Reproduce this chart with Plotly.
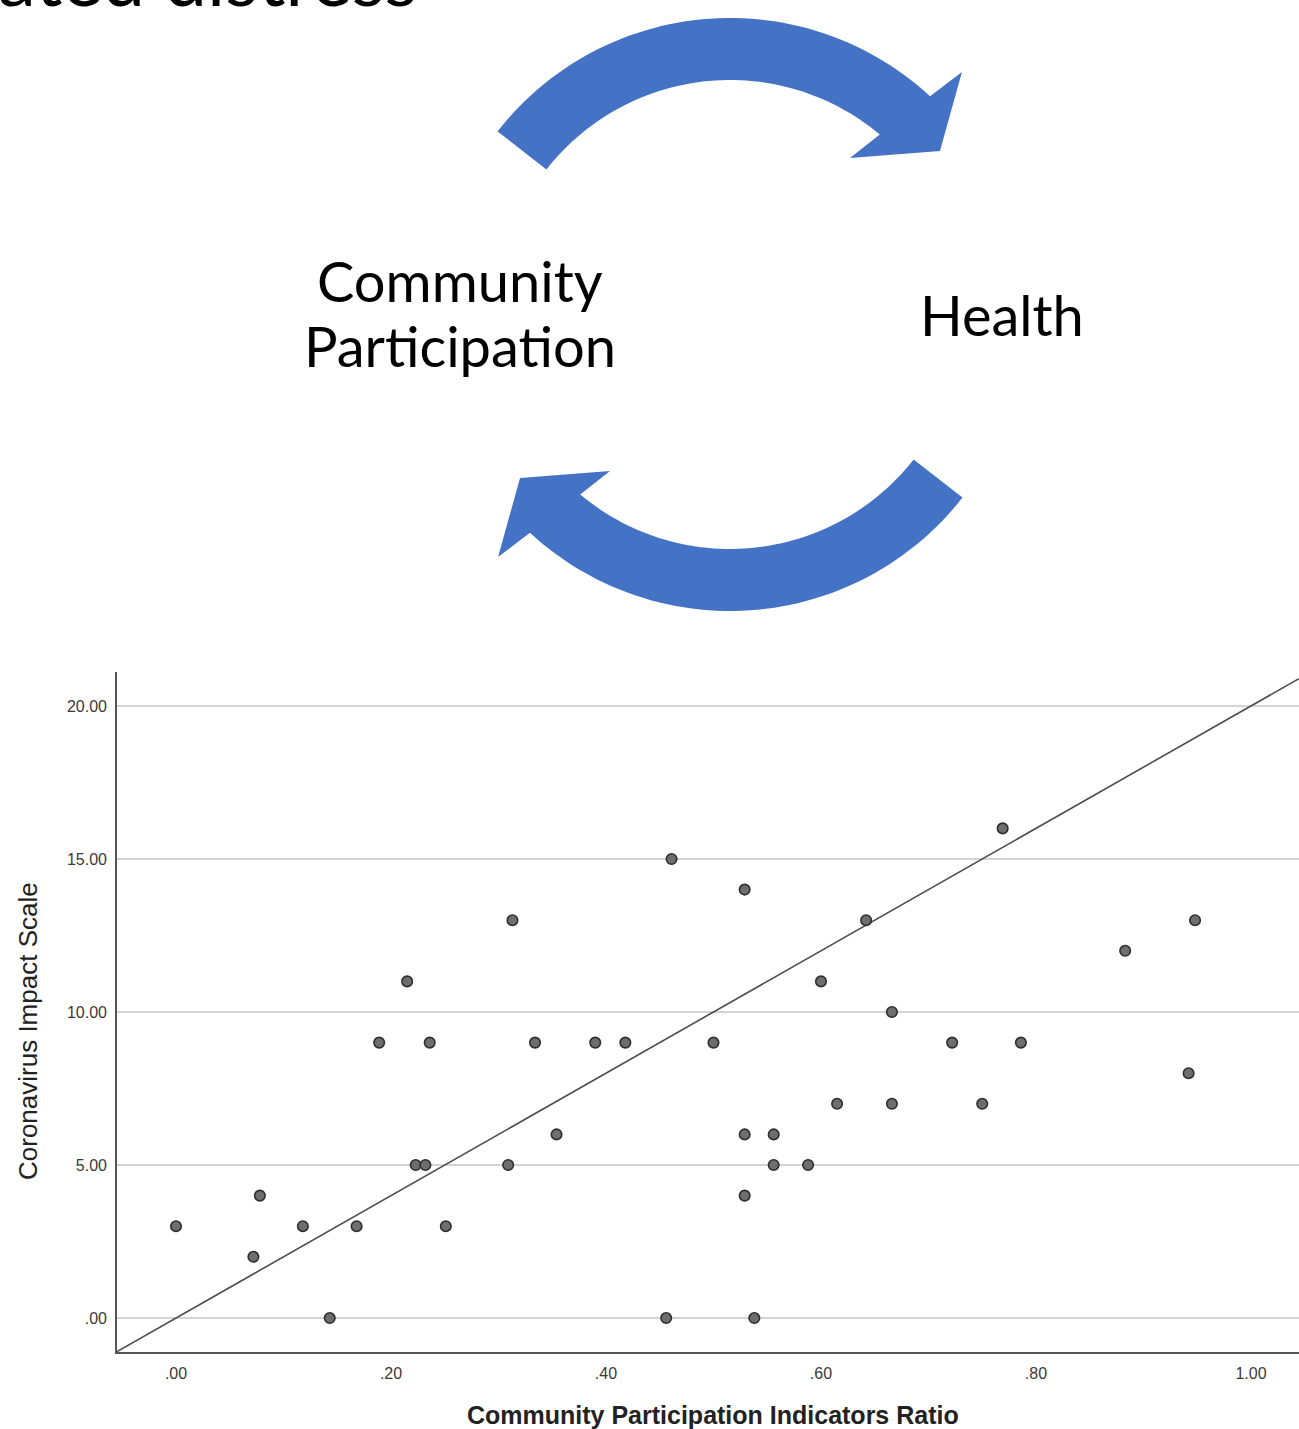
import numpy as np
import plotly.graph_objects as go

W, H = 1299, 1429

# ---------------- data ----------------
participation_ratio = [0.000, 0.072, 0.078, 0.118, 0.143, 0.168, 0.189, 0.215, 0.223, 0.232,
                       0.236, 0.251, 0.309, 0.313, 0.334, 0.354, 0.390, 0.418, 0.456, 0.461,
                       0.500, 0.529, 0.529, 0.529, 0.538, 0.556, 0.556, 0.588, 0.600, 0.615,
                       0.642, 0.666, 0.666, 0.722, 0.750, 0.769, 0.786, 0.883, 0.942, 0.948]
impact_scale = [3, 2, 4, 3, 0, 3, 9, 11, 5, 5,
                9, 3, 5, 13, 9, 6, 9, 9, 0, 15,
                9, 14, 6, 4, 0, 6, 5, 5, 11, 7,
                13, 10, 7, 9, 7, 16, 9, 12, 8, 13]

x_tick_vals = [0.0, 0.2, 0.4, 0.6, 0.8, 1.0]
x_tick_text = [".00", ".20", ".40", ".60", ".80", "1.00"]
y_tick_vals = [0, 5, 10, 15, 20]
y_tick_text = [".00", "5.00", "10.00", "15.00", "20.00"]

ref_slope = 20.0
ref_intercept = 0.0

x_range = [-0.0549, 1.0447]
y_range = [-1.11, 21.11]

x_title = "Community Participation Indicators Ratio"
y_title = "Coronavirus Impact Scale"
cycle_left = "Community"
cycle_left2 = "Participation"
cycle_right = "Health"
cropped_heading = "ated distress"

# ---------------- helpers (pixel -> paper) ----------------
def px(x):
    return x / W


def py(y):
    return 1 - y / H


ARROW_BLUE = "#4472C4"


def arrow_points(cx, cy, r_in, r_out, a_start, a_out_end, a_in_end,
                 barb_out, tip, barb_in):
    pts = []
    for a in np.linspace(a_start, a_out_end, 60):
        t = np.radians(a)
        pts.append((cx + r_out * np.cos(t), cy + r_out * np.sin(t)))
    for (r, a) in (barb_out, tip, barb_in):
        t = np.radians(a)
        pts.append((cx + r * np.cos(t), cy + r * np.sin(t)))
    for a in np.linspace(a_in_end, a_start, 60):
        t = np.radians(a)
        pts.append((cx + r_in * np.cos(t), cy + r_in * np.sin(t)))
    return pts


def to_path(pts):
    s = "M {:.5f},{:.5f}".format(px(pts[0][0]), py(pts[0][1]))
    for (x, y) in pts[1:]:
        s += " L {:.5f},{:.5f}".format(px(x), py(y))
    return s + " Z"


top_pts = arrow_points(730, 313, 233, 295, -142, -47.3, -50.0,
                       (334.5, -46.1), (265.2, -37.65), (196.0, -52.25))
bot_pts = [(1460 - x, 629 - y) for (x, y) in top_pts]

# ---------------- figure ----------------
fig = go.Figure()

fig.add_trace(go.Scatter(
    x=x_range, y=[ref_intercept + ref_slope * v for v in x_range],
    mode="lines", line=dict(color="#4d4d4d", width=1.6),
    hoverinfo="skip", showlegend=False, cliponaxis=True))

fig.add_trace(go.Scatter(
    x=participation_ratio, y=impact_scale, mode="markers",
    marker=dict(size=10.5, color="#6e6e6e", line=dict(color="#2e2e2e", width=1.6)),
    showlegend=False, cliponaxis=False))

tick_font = dict(family="Liberation Sans, Arial, sans-serif", size=16, color="#3a3a3a")

fig.update_layout(
    width=W, height=H,
    margin=dict(l=0, r=0, t=0, b=0),
    paper_bgcolor="white", plot_bgcolor="white",
    xaxis=dict(domain=[px(117), 1.0], range=x_range, showgrid=False, zeroline=False,
               showline=True, linecolor="#555555", linewidth=1.6,
               tickvals=x_tick_vals, ticktext=x_tick_text, ticks="",
               ticklabelstandoff=6, tickfont=tick_font),
    yaxis=dict(domain=[py(1352), py(672)], range=y_range, showgrid=True,
               gridcolor="#d4d4d4", gridwidth=2, zeroline=False,
               showline=True, linecolor="#555555", linewidth=1.6,
               tickvals=y_tick_vals, ticktext=y_tick_text, ticks="",
               ticklabelstandoff=5, tickfont=tick_font),
    shapes=[
        dict(type="path", xref="paper", yref="paper", path=to_path(top_pts),
             fillcolor=ARROW_BLUE, line=dict(width=0)),
        dict(type="path", xref="paper", yref="paper", path=to_path(bot_pts),
             fillcolor=ARROW_BLUE, line=dict(width=0)),
    ],
)

big_font = dict(family="Lato, Open Sans, sans-serif", size=56, color="black")
annotations = [
    dict(text=cycle_left, x=px(460), y=py(281), xref="paper", yref="paper",
         xanchor="center", yanchor="middle", showarrow=False, font=big_font),
    dict(text=cycle_left2, x=px(460), y=py(345), xref="paper", yref="paper",
         xanchor="center", yanchor="middle", showarrow=False, font=big_font),
    dict(text=cycle_right, x=px(1002), y=py(315), xref="paper", yref="paper",
         xanchor="center", yanchor="middle", showarrow=False, font=big_font),
    dict(text=cropped_heading, x=px(-4), y=py(-23), xref="paper", yref="paper",
         xanchor="left", yanchor="middle", showarrow=False,
         font=dict(family="Lato, Open Sans, sans-serif", size=76, color="black")),
    dict(text="<b>" + x_title + "</b>", x=px(713), y=py(1415), xref="paper", yref="paper",
         xanchor="center", yanchor="middle", showarrow=False,
         font=dict(family="Liberation Sans, Arial, sans-serif", size=25, color="#222222")),
    dict(text=y_title, x=px(28), y=py(1031), xref="paper", yref="paper",
         xanchor="center", yanchor="middle", showarrow=False, textangle=-90,
         font=dict(family="Liberation Sans, Arial, sans-serif", size=26, color="#222222")),
]
fig.update_layout(annotations=annotations)

fig.write_html(
    "out.html",
    config={"displayModeBar": False},
    post_script="document.body.style.margin='0';document.body.style.padding='0';"
                "document.body.style.overflow='hidden';",
)
